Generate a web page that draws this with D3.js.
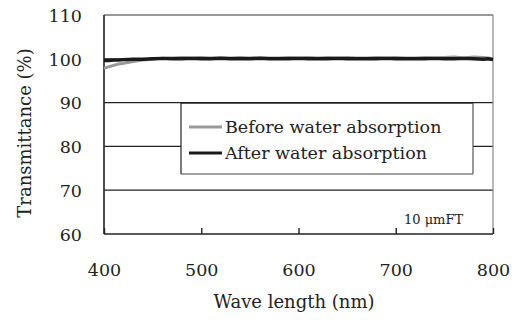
<!DOCTYPE html>
<html><head><meta charset="utf-8">
<script src="https://cdn.jsdelivr.net/npm/d3@7/dist/d3.min.js"></script>
<style>body{margin:0;background:#fff}svg{display:block}</style>
</head><body>
<script>
const wavelengths = [400,405,410,415,420,430,440,450,460,470,480,490,500,510,520,530,540,550,560,570,580,590,600,610,620,630,640,650,660,670,680,690,700,710,720,730,740,750,760,770,780,790,795,800];
const beforeValues = [97.8,98.2,98.5,98.8,99.0,99.4,99.7,99.9,100.1,100.2,100.3,100.2,100.3,100.2,100.3,100.2,100.3,100.2,100.3,100.2,100.2,100.3,100.2,100.3,100.2,100.3,100.2,100.3,100.2,100.2,100.3,100.2,100.3,100.2,100.2,100.3,100.2,100.3,100.4,100.2,100.4,100.3,100.2,100.0];
const afterValues = [99.6,99.6,99.7,99.7,99.8,99.9,99.9,100.0,100.1,100.0,100.0,100.1,100.0,100.0,100.1,100.0,100.0,100.0,100.1,100.0,100.0,100.0,100.1,100.0,100.0,100.0,100.1,100.0,100.0,100.0,100.0,100.1,100.0,100.0,100.0,100.0,100.1,100.0,100.0,100.1,100.0,99.9,100.0,99.8];
const xTicks = [400,500,600,700,800];
const yTicks = [60,70,80,90,100,110];
const seriesNames = ["Before water absorption","After water absorption"];

const W=518,H=320, L=104,R=493,T=15,B=234;
const font="'DejaVu Serif', serif";
const fs=17.5;
const svg=d3.select("body").append("svg").attr("width",W).attr("height",H);
const x=d3.scaleLinear().domain([400,800]).range([L,R]);
const y=d3.scaleLinear().domain([60,110]).range([B,T]);

// gridlines
svg.append("g").selectAll("line").data(yTicks.filter(v=>v>60&&v<110)).join("line")
 .attr("x1",L).attr("x2",R).attr("y1",d=>y(d)).attr("y2",d=>y(d))
 .attr("stroke","#222").attr("stroke-width",1.2);
// top and right border
svg.append("line").attr("x1",L).attr("x2",R).attr("y1",T).attr("y2",T).attr("stroke","#777").attr("stroke-width",1.5);
svg.append("line").attr("x1",R).attr("x2",R).attr("y1",T).attr("y2",B).attr("stroke","#888").attr("stroke-width",1.2);

// x axis
const xa=svg.append("g").attr("transform",`translate(0,${B})`)
 .call(d3.axisBottom(x).tickValues(xTicks).tickSize(-6).tickPadding(0).tickFormat(d3.format("d")));
xa.select(".domain").attr("stroke","#222").attr("stroke-width",1.6).attr("d",`M${L},0H${R}`);
xa.selectAll(".tick line").attr("stroke","#222").attr("stroke-width",1.4);
xa.selectAll(".tick text").attr("y",42).attr("dy",0).attr("font-family",font).attr("font-size",fs).attr("fill","#222");

// y axis
const ya=svg.append("g").attr("transform",`translate(${L},0)`)
 .call(d3.axisLeft(y).tickValues(yTicks).tickSize(0).tickPadding(22));
ya.select(".domain").attr("stroke","#222").attr("stroke-width",1.6).attr("d",`M0,${T}V${B}`);
ya.selectAll(".tick text").attr("dy","0.36em").attr("font-family",font).attr("font-size",fs).attr("fill","#222");

// lines
const line=(vals)=>d3.line().x((d,i)=>x(wavelengths[i])).y(d=>y(d))(vals);
svg.append("path").attr("d",line(beforeValues)).attr("fill","none").attr("stroke","#999").attr("stroke-width",3);
svg.append("path").attr("d",line(afterValues)).attr("fill","none").attr("stroke","#1a1a1a").attr("stroke-width",3.4);

// legend
const lg=svg.append("g");
lg.append("rect").attr("x",181).attr("y",103).attr("width",292).attr("height",71).attr("fill","#fff").attr("stroke","none");
lg.append("line").attr("x1",181).attr("x2",473).attr("y1",103).attr("y2",103).attr("stroke","#222").attr("stroke-width",1.4);
lg.append("line").attr("x1",181).attr("x2",181).attr("y1",103).attr("y2",174).attr("stroke","#222").attr("stroke-width",1.2);
lg.append("line").attr("x1",181).attr("x2",473).attr("y1",174).attr("y2",174).attr("stroke","#444").attr("stroke-width",1.2);
lg.append("line").attr("x1",473).attr("x2",473).attr("y1",103).attr("y2",174).attr("stroke","#555").attr("stroke-width",1.2);
const colors=["#999","#1a1a1a"];
seriesNames.forEach((n,i)=>{
  const yy=127+i*26;
  lg.append("line").attr("x1",189).attr("x2",222).attr("y1",yy).attr("y2",yy).attr("stroke",colors[i]).attr("stroke-width",3);
  lg.append("text").attr("x",225).attr("y",yy+6).attr("font-family",font).attr("font-size",fs).attr("fill","#222").text(n);
});

// annotation
svg.append("text").attr("x",404).attr("y",224).attr("font-family",font).attr("font-size",13).attr("fill","#222").text("10 μmFT");

// axis titles
svg.append("text").attr("x",294).attr("y",308).attr("text-anchor","middle").attr("font-family",font).attr("font-size",18).attr("fill","#222").text("Wave length (nm)");
svg.append("text").attr("transform",`translate(31,133) rotate(-90)`).attr("text-anchor","middle").attr("font-family",font).attr("font-size",18).attr("fill","#222").text("Transmittance (%)");
</script>
</body></html>
